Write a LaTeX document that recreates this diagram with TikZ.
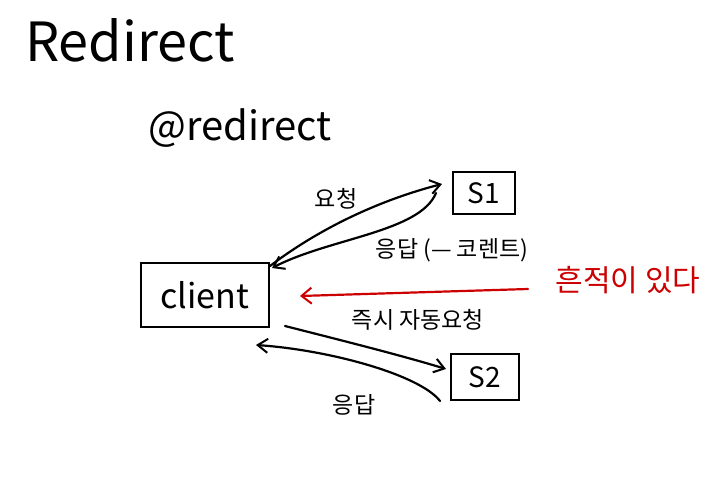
\documentclass[tikz,border=0pt]{standalone}
\usepackage{fontspec}
\setmainfont{Noto Sans CJK KR}
\usetikzlibrary{arrows.meta}
\tikzset{
  ink/.style={line width=2.2pt, black, line cap=round, line join=round},
  redink/.style={line width=2.2pt, red!80!black, line cap=round},
  boxnode/.style={draw, line width=2.4pt, inner sep=0pt},
  lbl/.style={font=\fontsize{23}{25}\selectfont, inner sep=1pt},
  tip/.style={-{Straight Barb[length=10pt,width=14pt,line width=2pt]}}
}
\begin{document}
\begin{tikzpicture}[x=1pt,y=-1pt]
\useasboundingbox (0,0) rectangle (724,492);
\node (title) at (130,40) {\fontsize{54}{56}\selectfont Redirect};
\node (anno) at (240,128) {\fontsize{40}{42}\selectfont @redirect};
\node[boxnode, minimum width=128pt, minimum height=64pt] (client) at (205,295) {\fontsize{34}{36}\selectfont client};
\node[boxnode, minimum width=62pt, minimum height=42pt] (s1) at (484,193) {\fontsize{28}{30}\selectfont S1};
\node[boxnode, minimum width=68pt, minimum height=46pt] (s2) at (485,377) {\fontsize{28}{30}\selectfont S2};
\coordinate (c1) at (270,266);
\coordinate (s1in) at (442,184);
\coordinate (s1out) at (436,193);
\coordinate (c2) at (272,268);
\draw[ink, tip] (c1) .. controls (320,228) and (380,200) .. (s1in);
\draw[ink, tip] (s1out) .. controls (420,232) and (330,238) .. (c2);
\coordinate (redstart) at (528,289);
\coordinate (redend) at (300,296);
\draw[redink, -{Straight Barb[length=10pt,width=16pt,line width=2pt]}] (redstart) -- (redend);
\node[text=red!80!black, font=\fontsize{30}{32}\selectfont] (note) at (628,280) {흔적이 있다};
\coordinate (c3) at (285,326);
\coordinate (s2in) at (446,369);
\coordinate (s2out) at (440,401);
\coordinate (c4) at (256,345);
\draw[ink, tip] (c3) .. controls (340,340) and (400,355) .. (s2in);
\draw[ink, tip] (s2out) .. controls (420,375) and (330,350) .. (c4);
\node[lbl] (req) at (336,199) {요청};
\node[lbl] (resp1) at (452,250) {응답 (— 코렌트)};
\node[lbl] (auto) at (418,320) {즉시 자동요청};
\node[lbl] (resp2) at (354,405) {응답};
\end{tikzpicture}
\end{document}
